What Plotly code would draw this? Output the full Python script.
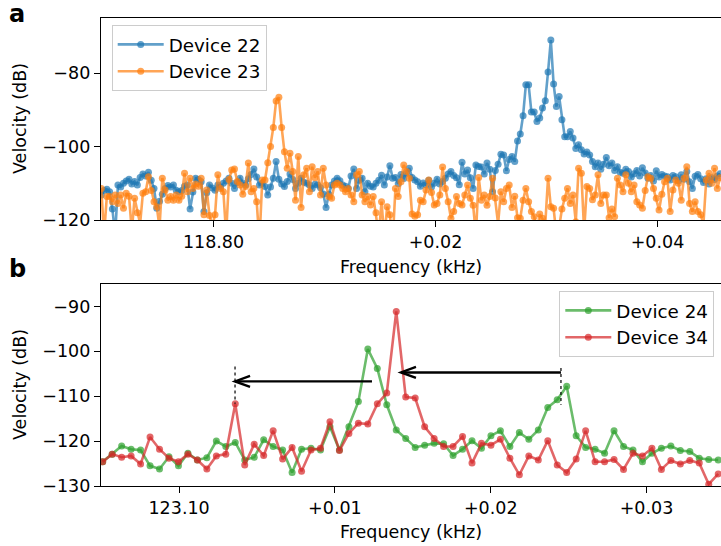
import numpy as np
import plotly.graph_objects as go

# ---------------- panel a: spectra around 118.8 kHz ----------------
FA_START = 118.78989   # kHz, first bin
FA_STEP = 0.00025      # kHz per bin
freq_a = FA_START + FA_STEP * np.arange(224)

dev22 = [
    -113.2, -112.0, -111.6, -112.3, -117.0, -124.0, -110.5, -111.0, -110.0, -109.4,
    -108.9, -110.2, -109.5, -110.5, -108.4, -107.5, -108.0, -107.0, -109.2, -111.4,
    -116.8, -114.9, -113.0, -111.4, -110.6, -111.0, -110.5, -111.9, -112.3, -112.0,
    -110.8, -110.5, -117.0, -112.4, -108.6, -109.0, -109.6, -117.7, -112.6, -110.5,
    -111.3, -111.9, -110.5, -111.0, -110.0, -109.4, -108.6, -110.0, -111.4, -109.8,
    -108.6, -109.9, -110.5, -108.8, -107.6, -106.1, -108.3, -110.5, -110.0, -110.9,
    -113.2, -111.0, -108.6, -104.1, -108.9, -110.2, -110.9, -109.5, -107.5, -109.0,
    -111.4, -110.0, -108.6, -109.7, -110.0, -110.5, -111.4, -110.3, -110.5, -111.2,
    -112.9, -116.6, -113.0, -110.5, -109.4, -108.6, -109.3, -110.5, -110.8, -111.4,
    -108.0, -106.1, -111.4, -109.2, -108.6, -112.3, -110.0, -110.8, -111.0, -110.0,
    -109.2, -107.8, -110.5, -108.3, -105.2, -108.6, -108.4, -110.1, -107.6, -108.7,
    -107.3, -105.9, -108.4, -109.1, -109.6, -110.8, -109.9, -110.4, -109.2, -111.0,
    -110.0, -108.9, -110.2, -109.5, -108.6, -107.5, -106.8, -107.9, -108.5, -110.4,
    -104.3, -107.5, -106.4, -108.5, -111.4, -105.0, -105.4, -105.6, -107.5, -104.5,
    -106.2, -112.3, -106.5, -104.8, -102.1, -102.3, -106.6, -103.5, -102.7, -104.1,
    -98.5, -96.6, -91.6, -83.2, -83.2, -90.6, -90.6, -93.2, -92.2, -89.5,
    -87.5, -79.7, -71.0, -83.0, -89.1, -86.4, -92.7, -97.3, -97.3, -95.9,
    -97.7, -100.5, -99.5, -100.9, -102.0, -101.5, -102.3, -104.1, -105.5, -104.5,
    -106.2, -104.8, -103.0, -105.2, -104.5, -106.5, -105.5, -107.0, -107.3, -106.2,
    -106.8, -108.3, -107.4, -106.5, -108.0, -105.8, -107.2, -108.6, -107.9, -109.4,
    -106.6, -108.3, -107.6, -108.0, -108.2, -109.1, -107.9, -108.2, -109.3, -107.7,
    -108.9, -106.8, -109.6, -111.4, -108.1, -107.6, -108.8, -109.8, -108.8, -110.2,
    -108.5, -109.0, -108.0, -107.4,
]

dev23 = [
    -111.4, -124.0, -113.6, -113.6, -115.0, -113.2, -115.5, -113.2, -116.8, -112.7,
    -113.5, -123.0, -114.1, -118.0, -121.0, -112.7, -112.3, -108.2, -112.0, -115.0,
    -116.4, -122.0, -108.6, -111.8, -114.6, -113.6, -114.6, -113.2, -114.6, -113.5,
    -107.3, -112.3, -108.6, -111.4, -110.2, -110.8, -108.6, -118.6, -111.8, -118.8,
    -121.5, -118.6, -107.7, -111.4, -112.3, -124.0, -109.0, -106.4, -106.1, -109.5,
    -110.5, -113.0, -110.9, -104.5, -112.3, -111.4, -115.0, -126.0, -109.1, -109.1,
    -104.4, -100.0, -94.8, -87.6, -86.6, -94.8, -101.4, -105.9, -101.8, -106.8,
    -114.6, -102.7, -116.6, -107.7, -105.9, -112.3, -105.5, -108.5, -106.8, -113.2,
    -105.9, -110.5, -113.6, -114.1, -110.5, -110.0, -110.5, -111.4, -112.3, -111.4,
    -113.2, -115.0, -107.7, -106.8, -113.2, -115.0, -113.6, -115.9, -113.6, -118.0,
    -124.0, -115.0, -125.0, -116.4, -118.6, -126.0, -111.4, -113.6, -109.6, -105.0,
    -106.8, -108.6, -118.4, -119.0, -118.6, -114.6, -115.0, -111.8, -109.1, -112.5,
    -115.9, -115.5, -113.2, -105.6, -111.4, -115.0, -119.5, -117.7, -113.6, -115.5,
    -115.9, -113.2, -110.5, -114.1, -116.0, -124.0, -108.4, -114.6, -113.2, -116.0,
    -113.6, -108.6, -114.0, -121.0, -112.3, -115.0, -111.4, -110.5, -116.6, -113.5,
    -119.4, -119.5, -114.6, -111.4, -115.0, -117.7, -119.1, -123.0, -118.4, -119.5,
    -121.0, -108.6, -116.4, -116.8, -124.0, -122.0, -117.0, -114.1, -111.4, -115.5,
    -113.2, -120.5, -105.9, -107.3, -123.0, -110.9, -111.4, -114.5, -113.2, -107.7,
    -115.5, -113.2, -113.2, -119.4, -117.0, -119.1, -108.6, -110.5, -112.3, -107.7,
    -110.0, -112.3, -110.5, -115.0, -115.9, -116.8, -112.0, -108.2, -108.6, -111.4,
    -114.1, -117.3, -113.0, -109.6, -108.6, -117.7, -111.8, -109.1, -110.0, -114.6,
    -108.6, -105.5, -115.5, -117.7, -115.0, -117.7, -118.6, -121.0, -109.1, -107.3,
    -110.0, -105.9, -111.4, -108.5,
]

# ---------------- panel b: spectra around 123.1 kHz ----------------
FB_START = 123.095096
FB_STEP = 0.0006078
freq_b = FB_START + FB_STEP * np.arange(66)

dev24 = [
    -124.6, -122.9, -121.1, -121.8, -122.0, -125.5, -126.2, -123.5, -125.5, -122.7,
    -124.2, -123.7, -120.0, -121.2, -120.3, -124.2, -123.6, -119.7, -121.2, -122.0,
    -127.0, -121.8, -121.6, -122.0, -116.8, -122.0, -116.8, -111.2, -99.5, -103.8,
    -111.9, -117.5, -119.4, -121.4, -120.9, -120.5, -120.6, -123.2, -121.8, -119.9,
    -121.6, -118.8, -117.7, -121.2, -118.1, -119.6, -117.5, -112.5, -110.8, -107.8,
    -118.8, -121.4, -121.8, -122.7, -117.7, -121.2, -122.0, -124.6, -122.7, -121.6,
    -121.1, -122.1, -122.3, -123.8, -124.1, -124.2,
]

dev34 = [
    -124.6, -122.9, -123.6, -123.3, -125.1, -119.1, -121.8, -123.8, -124.6, -122.9,
    -124.2, -126.2, -123.3, -122.9, -111.7, -125.3, -120.7, -123.2, -117.7, -124.0,
    -121.4, -126.7, -122.0, -121.6, -115.7, -122.1, -118.3, -116.0, -116.2, -111.7,
    -109.3, -91.1, -110.2, -110.4, -116.8, -119.4, -121.2, -121.2, -119.0, -124.9,
    -120.5, -120.9, -119.6, -123.8, -127.5, -123.3, -124.2, -119.9, -125.3, -127.0,
    -124.0, -117.7, -124.6, -124.6, -124.1, -126.3, -122.7, -123.3, -121.6, -126.3,
    -124.3, -125.1, -124.3, -124.9, -129.6, -127.3,
]

# Frequency shift markers in panel b: (tail kHz, head kHz, level dB)
shift_arrows = [
    (123.12451, 123.11424, -104.7),
    (123.11238, 123.10359, -106.7),
]
# Dotted guides: (kHz, from dB, to dB)
guides = [
    (123.12451, -103.7, -111.9),
    (123.10359, -103.4, -111.7),
]

ticks_a = [118.80, 118.82, 118.84]
ticklabels_a = ["118.80", "+0.02", "+0.04"]
ticks_b = [123.10, 123.11, 123.12, 123.13]
ticklabels_b = ["123.10", "+0.01", "+0.02", "+0.03"]

# ---------------- layout geometry ----------------
W, H = 721, 546
ML, MR, MT, MB = 101, 0, 18, 60
PW, PH = W - ML - MR, H - MT - MB


def px_x(x):
    return (x - ML) / PW


def px_y(y):
    return (H - MB - y) / PH


FONT = "DejaVu Sans"
FS = 17.5
FS_LEG = 18.3

C22 = "rgba(31,119,180,0.7)"
C23 = "rgba(255,127,14,0.7)"
C24 = "rgba(44,160,44,0.7)"
C34 = "rgba(214,39,40,0.7)"

fig = go.Figure()


def add_series(x, y, name, color, xa, ya, leg):
    fig.add_trace(go.Scatter(
        x=x, y=y, name=name, mode="lines+markers",
        line=dict(color=color, width=2.6),
        marker=dict(color=color, size=7, line=dict(width=0)),
        xaxis=xa, yaxis=ya, legend=leg,
    ))


add_series(freq_a, dev22, "Device 22", C22, "x", "y", "legend")
add_series(freq_a, dev23, "Device 23", C23, "x", "y", "legend")
add_series(freq_b, dev24, "Device 24", C24, "x2", "y2", "legend2")
add_series(freq_b, dev34, "Device 34", C34, "x2", "y2", "legend2")

axis_common = dict(
    showline=True, linecolor="black", linewidth=1.4,
    ticks="outside", ticklen=6, tickwidth=1.4, tickcolor="black",
    showgrid=False, zeroline=False,
    tickfont=dict(family=FONT, size=FS, color="black"),
)

legend_common = dict(
    bgcolor="rgba(255,255,255,0.8)", bordercolor="#cccccc", borderwidth=1,
    itemwidth=46, font=dict(family=FONT, size=FS_LEG, color="black"),
)

fig.update_layout(
    width=W, height=H,
    margin=dict(l=ML, r=MR, t=MT, b=MB, pad=0),
    paper_bgcolor="white", plot_bgcolor="white",
    font=dict(family=FONT, size=FS, color="black"),
    xaxis=dict(domain=[0, 1], anchor="y", range=[118.789865, 118.845721],
               tickvals=ticks_a, ticktext=ticklabels_a, mirror=True, **axis_common),
    yaxis=dict(domain=[px_y(220), px_y(18)], anchor="x", range=[-120, -65],
               tickvals=[-120, -100, -80], **axis_common),
    xaxis2=dict(domain=[0, 1], anchor="y2", range=[123.094987, 123.134782],
                tickvals=ticks_b, ticktext=ticklabels_b, mirror=True, **axis_common),
    yaxis2=dict(domain=[0, px_y(284)], anchor="x2", range=[-130, -85],
                tickvals=[-130, -120, -110, -100, -90], **axis_common),
    legend=dict(x=px_x(111.7), y=px_y(25), xanchor="left", yanchor="top",
                **legend_common),
    legend2=dict(x=px_x(714.3), y=px_y(291), xanchor="right", yanchor="top",
                 **legend_common),
    showlegend=True,
)

# axis titles and panel letters
texts = [
    dict(text="Frequency (kHz)", x=px_x(411), y=px_y(267), textangle=0),
    dict(text="Frequency (kHz)", x=px_x(411), y=px_y(532), textangle=0),
    dict(text="Velocity (dB)", x=px_x(20), y=px_y(119), textangle=-90),
    dict(text="Velocity (dB)", x=px_x(20), y=px_y(385), textangle=-90),
]
for t in texts:
    fig.add_annotation(xref="paper", yref="paper", showarrow=False,
                       xanchor="center", yanchor="middle",
                       font=dict(family=FONT, size=FS, color="black"), **t)
for letter, yc in (("a", 13.6), ("b", 268.6)):
    fig.add_annotation(xref="paper", yref="paper", showarrow=False,
                       text="<b>%s</b>" % letter, x=px_x(7), y=px_y(yc),
                       xanchor="left", yanchor="middle",
                       font=dict(family=FONT, size=24, color="black"))

# dotted guides and arrows in panel b
for f, y0, y1 in guides:
    fig.add_shape(type="line", xref="x2", yref="y2", x0=f, x1=f, y0=y0, y1=y1,
                  line=dict(color="black", width=1.2, dash="dot"))

HEAD_LEN = 15 / 15580.0   # kHz for ~15 px
HEAD_HALF = 5.5 / 4.483   # dB for ~5.5 px
for tail, head, lvl in shift_arrows:
    fig.add_shape(type="line", xref="x2", yref="y2", x0=tail, x1=head, y0=lvl, y1=lvl,
                  line=dict(color="black", width=2.4))
    path = "M %f %f L %f %f L %f %f" % (
        head + HEAD_LEN, lvl + HEAD_HALF, head, lvl, head + HEAD_LEN, lvl - HEAD_HALF)
    fig.add_shape(type="path", xref="x2", yref="y2", path=path,
                  line=dict(color="black", width=2.4))

fig.write_html("out.html")
